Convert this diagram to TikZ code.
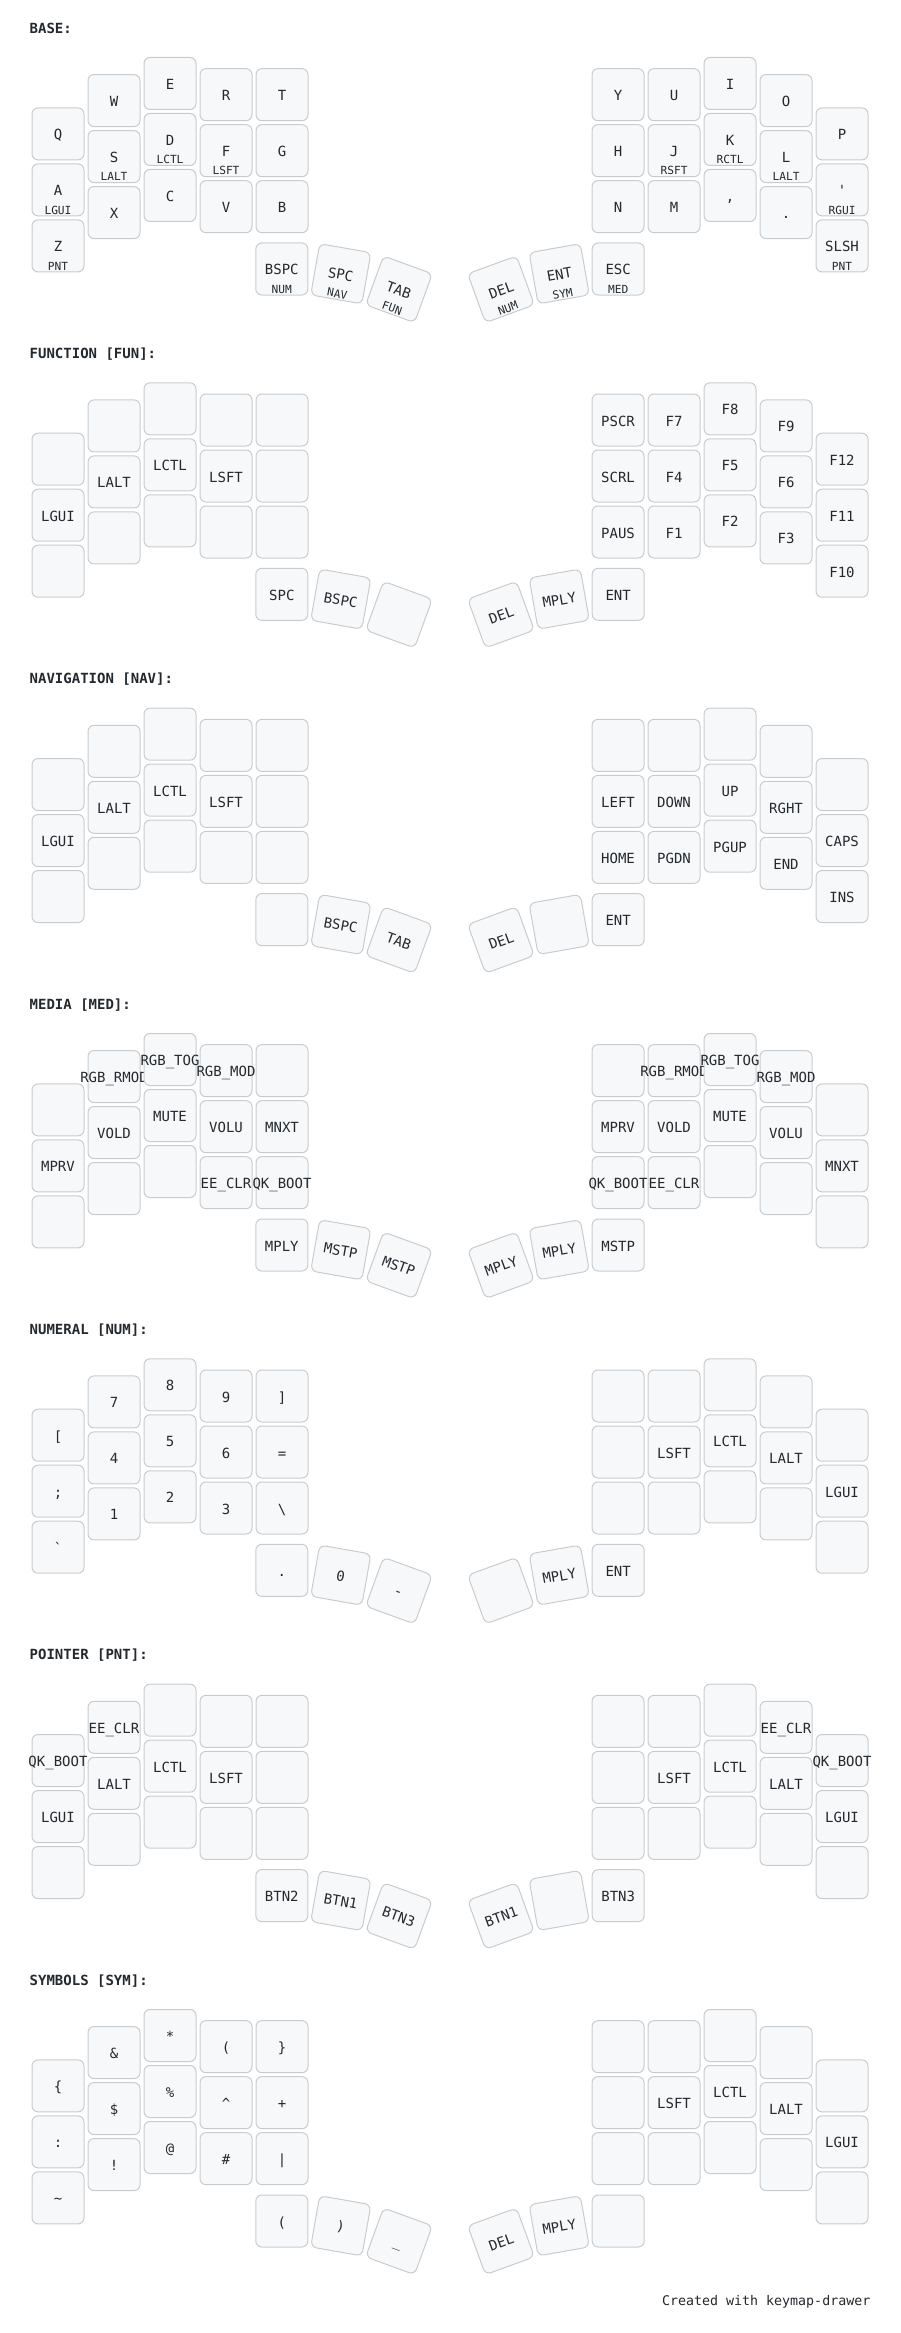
\documentclass[tikz,border=0pt]{standalone}
\usepackage{fontspec}
\setmonofont{DejaVu Sans Mono}

\definecolor{keyfill}{HTML}{F6F8FA}
\definecolor{keyline}{HTML}{C9CCCF}
\definecolor{keyink}{HTML}{24292E}

\tikzset{
	keybox/.style={draw=keyline,fill=keyfill,line width=1pt,rounded corners=6pt,
		minimum width=52pt,minimum height=52pt,inner sep=0pt},
	taptext/.style={text=keyink,inner sep=0pt,anchor=base,
		font=\ttfamily\fontsize{14}{16}\selectfont},
	holdtext/.style={text=keyink,inner sep=0pt,anchor=base,
		font=\ttfamily\fontsize{11.2}{13}\selectfont},
	header/.style={text=keyink,inner sep=0pt,anchor=base west,
		font=\ttfamily\bfseries\fontsize{14}{16}\selectfont},
	credit/.style={text=keyink,inner sep=0pt,anchor=base east,
		font=\ttfamily\fontsize{13.3}{16}\selectfont}
}

% #1 layer number, #2 title, #3 the 36 keys as tap/hold
\newcommand\drawlayer[3]{
	\node[header] (title#1) at (29.5,{33.3+325.33*#1}) {#2};
	\foreach \t/\h [count=\n from 0] in {#3} {
		\ifnum\n<30
			\pgfmathtruncatemacro\c{mod(\n,10)}
			\pgfmathtruncatemacro\r{\n/10}
			\pgfmathsetmacro\kx{{58,114,170,226,282,618,674,730,786,842}[\c]}
			\pgfmathsetmacro\ky{{133.9,100.6,83.5,94.7,94.7,94.7,94.7,83.5,100.6,133.9}[\c]+56*\r+325.33*#1}
			\def\ka{0}
		\else
			\pgfmathtruncatemacro\j{\n-30}
			\pgfmathsetmacro\kx{{281.8,340.8,399,501,559.2,618.2}[\j]}
			\pgfmathsetmacro\ky{{269,273.8,289.3,289.3,273.8,269}[\j]+325.33*#1}
			\pgfmathsetmacro\ka{{0,-10,-20,20,10,0}[\j]}
		\fi
		\begin{scope}[shift={(\kx,\ky)},rotate=\ka,transform shape]
			\node[keybox] (k#1-\n) at (0,0) {};
			\node[taptext] (k#1-\n-tap) at (0,6) {\t};
			\node[holdtext] (k#1-\n-hold) at (0,24.3) {\h};
		\end{scope}
	}
}

\begin{document}
\begin{tikzpicture}[x=1pt,y=-1pt]
	\fill[white] (0,0) rectangle (900,2333);
	\useasboundingbox (0,0) rectangle (900,2333);
	
	\drawlayer{0}{BASE:}{
		Q/{},W/{},E/{},R/{},T/{},Y/{},U/{},I/{},O/{},P/{},
		A/LGUI,S/LALT,D/LCTL,F/LSFT,G/{},H/{},J/RSFT,K/RCTL,L/LALT,'/RGUI,
		Z/PNT,X/{},C/{},V/{},B/{},N/{},M/{},{,}/{},./{},SLSH/PNT,
		BSPC/NUM,SPC/NAV,TAB/FUN,DEL/NUM,ENT/SYM,ESC/MED}
	
	\drawlayer{1}{FUNCTION [FUN]:}{
		{}/{},{}/{},{}/{},{}/{},{}/{},PSCR/{},F7/{},F8/{},F9/{},F12/{},
		LGUI/{},LALT/{},LCTL/{},LSFT/{},{}/{},SCRL/{},F4/{},F5/{},F6/{},F11/{},
		{}/{},{}/{},{}/{},{}/{},{}/{},PAUS/{},F1/{},F2/{},F3/{},F10/{},
		SPC/{},BSPC/{},{}/{},DEL/{},MPLY/{},ENT/{}}
	
	\drawlayer{2}{NAVIGATION [NAV]:}{
		{}/{},{}/{},{}/{},{}/{},{}/{},{}/{},{}/{},{}/{},{}/{},{}/{},
		LGUI/{},LALT/{},LCTL/{},LSFT/{},{}/{},LEFT/{},DOWN/{},UP/{},RGHT/{},CAPS/{},
		{}/{},{}/{},{}/{},{}/{},{}/{},HOME/{},PGDN/{},PGUP/{},END/{},INS/{},
		{}/{},BSPC/{},TAB/{},DEL/{},{}/{},ENT/{}}
	
	\drawlayer{3}{MEDIA [MED]:}{
		{}/{},RGB\_RMOD/{},RGB\_TOG/{},RGB\_MOD/{},{}/{},{}/{},RGB\_RMOD/{},RGB\_TOG/{},RGB\_MOD/{},{}/{},
		MPRV/{},VOLD/{},MUTE/{},VOLU/{},MNXT/{},MPRV/{},VOLD/{},MUTE/{},VOLU/{},MNXT/{},
		{}/{},{}/{},{}/{},EE\_CLR/{},QK\_BOOT/{},QK\_BOOT/{},EE\_CLR/{},{}/{},{}/{},{}/{},
		MPLY/{},MSTP/{},MSTP/{},MPLY/{},MPLY/{},MSTP/{}}
	
	\drawlayer{4}{NUMERAL [NUM]:}{
		[/{},7/{},8/{},9/{},]/{},{}/{},{}/{},{}/{},{}/{},{}/{},
		;/{},4/{},5/{},6/{},=/{},{}/{},LSFT/{},LCTL/{},LALT/{},LGUI/{},
		`/{},1/{},2/{},3/{},\textbackslash/{},{}/{},{}/{},{}/{},{}/{},{}/{},
		./{},0/{},-/{},{}/{},MPLY/{},ENT/{}}
	
	\drawlayer{5}{POINTER [PNT]:}{
		QK\_BOOT/{},EE\_CLR/{},{}/{},{}/{},{}/{},{}/{},{}/{},{}/{},EE\_CLR/{},QK\_BOOT/{},
		LGUI/{},LALT/{},LCTL/{},LSFT/{},{}/{},{}/{},LSFT/{},LCTL/{},LALT/{},LGUI/{},
		{}/{},{}/{},{}/{},{}/{},{}/{},{}/{},{}/{},{}/{},{}/{},{}/{},
		BTN2/{},BTN1/{},BTN3/{},BTN1/{},{}/{},BTN3/{}}
	
	\drawlayer{6}{SYMBOLS [SYM]:}{
		\{/{},\&/{},*/{},{(}/{},\}/{},{}/{},{}/{},{}/{},{}/{},{}/{},
		:/{},\$/{},\%/{},\textasciicircum/{},+/{},{}/{},LSFT/{},LCTL/{},LALT/{},LGUI/{},
		\textasciitilde/{},!/{},@/{},\#/{},|/{},{}/{},{}/{},{}/{},{}/{},{}/{},
		{(}/{},{)}/{},\_/{},DEL/{},MPLY/{},{}/{}}
	
	\node[credit] (credit) at (870.5,2305) {Created with keymap-drawer};
\end{tikzpicture}
\end{document}
